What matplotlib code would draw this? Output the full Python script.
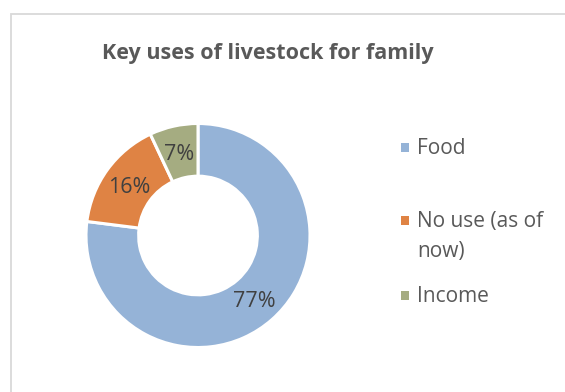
import matplotlib.pyplot as plt
from matplotlib.patches import Rectangle

labels = ["Food", "No use (as of\nnow)", "Income"]
values = [77, 16, 7]
colors = ["#95B3D7", "#DF8344", "#A5AC81"]

W, H = 565, 392
fig = plt.figure(figsize=(W / 100, H / 100), dpi=100)
fig.patch.set_facecolor("white")

# chart area frame (runs off the right and bottom edges)
frame = Rectangle((10.5 / W, -0.1), 1.2, (H - 14.5) / H + 0.1, transform=fig.transFigure,
                  fill=False, edgecolor="#D9D9D9", linewidth=1.3)
fig.patches.append(frame)

fig.text(268 / W, 1 - 53 / H, "Key uses of livestock for family", ha="center", va="center",
         fontsize=15.5, fontweight="bold", color="#595959", family="Open Sans")

# donut centred at (198, 235.5) px, outer radius 112 px
cx, cy, r = 198, 235.5, 112
ax = fig.add_axes([(cx - r) / W, (H - cy - r) / H, 2 * r / W, 2 * r / H])
wedges, texts, autotexts = ax.pie(
    values, colors=colors, startangle=90, counterclock=False,
    autopct=lambda p: f"{round(p)}%", pctdistance=0.76,
    wedgeprops=dict(width=0.47, edgecolor="white", linewidth=2.2),
    textprops=dict(fontsize=15.5, color="#404040", family="Open Sans"))
for t in autotexts:
    t.set_va("center_baseline")
ax.set_xlim(-1, 1)
ax.set_ylim(-1, 1)
ax.set_aspect("equal")
ax.axis("off")

# legend entries drawn by hand so the wrapped label keeps its marker on the first line
leg_y = [147, 220, 295]
for lab, col, y in zip(labels, colors, leg_y):
    fig.patches.append(Rectangle((401 / W, 1 - (y + 4.5) / H), 8.5 / W, 8.5 / H,
                                 transform=fig.transFigure, facecolor=col, edgecolor="none"))
    fig.text(417 / W, 1 - (y - 9) / H, lab, ha="left", va="top", fontsize=15,
             color="#595959", family="Open Sans", linespacing=1.55)

fig.savefig("out.png", dpi=100)
